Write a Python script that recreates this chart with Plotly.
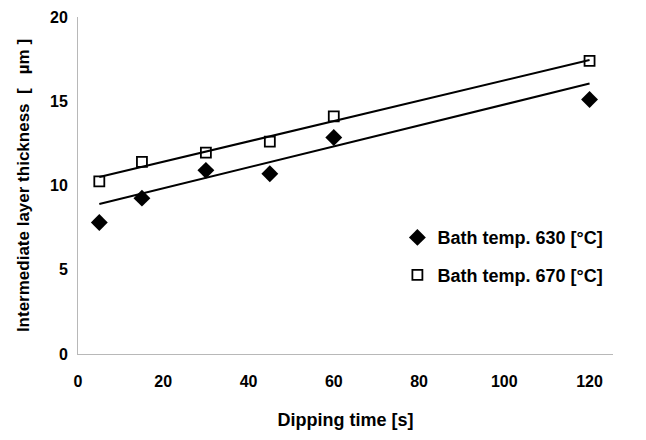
import plotly.graph_objects as go

# Data
dip_time = [5, 15, 30, 45, 60, 120]
thick_630 = [7.8, 9.25, 10.9, 10.7, 12.85, 15.1]
thick_670 = [10.25, 11.4, 11.95, 12.6, 14.1, 17.4]

trend_x = [5, 120]
trend_630 = [8.9, 16.05]
trend_670 = [10.5, 17.45]

x_ticks = [0, 20, 40, 60, 80, 100, 120]
y_ticks = [0, 5, 10, 15, 20]

FONT = "Liberation Sans"

fig = go.Figure()
fig.add_trace(go.Scatter(x=trend_x, y=trend_630, mode="lines",
                         line=dict(color="black", width=2), showlegend=False, hoverinfo="skip"))
fig.add_trace(go.Scatter(x=trend_x, y=trend_670, mode="lines",
                         line=dict(color="black", width=2), showlegend=False, hoverinfo="skip"))
fig.add_trace(go.Scatter(x=dip_time, y=thick_630, mode="markers", name="<b>Bath temp. 630 [°C]</b>",
                         legendgroup="a",
                         marker=dict(symbol="diamond", size=13, color="black")))
fig.add_trace(go.Scatter(x=dip_time, y=thick_670, mode="markers", name="<b>Bath temp. 670 [°C]</b>",
                         legendgroup="b",
                         marker=dict(symbol="square-open", size=10, color="black",
                                     line=dict(width=1.8, color="black"))))

fig.update_layout(
    width=646, height=440,
    margin=dict(l=70, r=41, t=9, b=94),
    paper_bgcolor="white", plot_bgcolor="white",
    font=dict(family=FONT, size=14, color="black"),
    legend=dict(x=0.597, y=0.40, xanchor="left", yanchor="top",
                traceorder="grouped", tracegroupgap=11,
                font=dict(family=FONT, size=18),
                bgcolor="rgba(0,0,0,0)"),
)
fig.update_xaxes(range=[0, 125.5], tickvals=x_ticks,
                 ticktext=[f"<b>{v}</b>" for v in x_ticks],
                 showgrid=False, zeroline=False, automargin=False,
                 showline=True, linecolor="#b8b8b8", linewidth=1,
                 ticks="", ticklabelstandoff=13,
                 tickfont=dict(family=FONT, size=16),
                 title=dict(text="<b>Dipping time [s]</b>", standoff=24,
                            font=dict(family=FONT, size=18)))
fig.update_yaxes(range=[0, 20], tickvals=y_ticks,
                 ticktext=[f"<b>{v}</b>" for v in y_ticks],
                 showgrid=False, zeroline=False, automargin=False,
                 showline=True, linecolor="#b8b8b8", linewidth=1,
                 ticks="", ticklabelstandoff=6,
                 tickfont=dict(family=FONT, size=16),
                 title=dict(text="<b>Intermediate layer thickness  [   µm ]</b>", standoff=16,
                            font=dict(family=FONT, size=17)))

fig.write_html("out.html")
